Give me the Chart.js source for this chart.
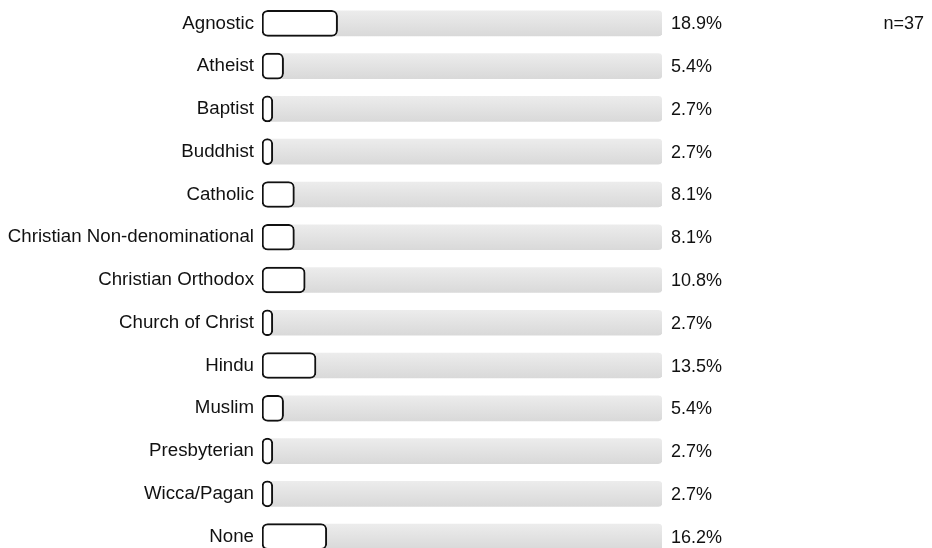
<!DOCTYPE html>
<html>
<head>
<meta charset="utf-8">
<script src="https://cdn.jsdelivr.net/npm/chart.js@4/dist/chart.umd.min.js"></script>
<style>
  html, body { margin: 0; padding: 0; background: #ffffff; overflow: hidden; }
  #wrap { position: relative; width: 932px; height: 558px; }
</style>
</head>
<body>
<div id="wrap"><canvas id="c" width="932" height="558"></canvas></div>
<script>
const categories = ["Agnostic", "Atheist", "Baptist", "Buddhist", "Catholic",
  "Christian Non-denominational", "Christian Orthodox", "Church of Christ",
  "Hindu", "Muslim", "Presbyterian", "Wicca/Pagan", "None"];
const percentValues = [18.9, 5.4, 2.7, 2.7, 8.1, 8.1, 10.8, 2.7, 13.5, 5.4, 2.7, 2.7, 16.2];
const trackValues = categories.map(() => 100);
const sampleLabel = "n=37";

const FONT = '"Liberation Sans", Arial, Helvetica, sans-serif';

const valueLabels = {
  id: 'valueLabels',
  afterDatasetsDraw(chart) {
    const ctx = chart.ctx;
    const yScale = chart.scales.y;
    const xScale = chart.scales.x;
    ctx.save();
    ctx.font = '18px ' + FONT;
    ctx.fillStyle = '#111111';
    ctx.textAlign = 'left';
    ctx.textBaseline = 'middle';
    percentValues.forEach((v, i) => {
      const y = yScale.getPixelForValue(i);
      const x = xScale.getPixelForValue(100) + 9;
      ctx.fillText(v.toFixed(1) + '%', x, y + 1);
    });
    ctx.textAlign = 'right';
    ctx.fillText(sampleLabel, 924, yScale.getPixelForValue(0) + 1);
    ctx.restore();
  }
};

new Chart(document.getElementById('c'), {
  type: 'bar',
  data: {
    labels: categories,
    datasets: [
      {
        label: 'value',
        data: percentValues,
        backgroundColor: '#ffffff',
        borderColor: '#111111',
        borderWidth: 2,
        borderRadius: 6,
        borderSkipped: false,
        barThickness: 26,
        grouped: false,
        order: 1
      },
      {
        label: 'track',
        data: trackValues,
        backgroundColor: (ctx) => {
          const chart = ctx.chart;
          const ys = chart.scales.y;
          if (!ys || !chart.chartArea) return '#e2e2e2';
          const py = ys.getPixelForValue(ctx.dataIndex);
          const g = chart.ctx.createLinearGradient(0, py - 12.5, 0, py + 12.5);
          g.addColorStop(0, '#ececec');
          g.addColorStop(1, '#d9d9d9');
          return g;
        },
        borderWidth: 0,
        borderRadius: 4,
        borderSkipped: false,
        barThickness: 25,
        grouped: false,
        order: 2
      }
    ]
  },
  options: {
    indexAxis: 'y',
    responsive: false,
    animation: false,
    devicePixelRatio: 1,
    layout: { padding: { top: 2, right: 270, bottom: 0, left: 0 } },
    plugins: {
      legend: { display: false },
      tooltip: { enabled: false },
      title: { display: false }
    },
    scales: {
      x: {
        display: false,
        min: 0,
        max: 100
      },
      y: {
        grid: { display: false, drawTicks: false, tickLength: 0 },
        border: { display: false },
        ticks: {
          color: '#111111',
          padding: 8,
          font: { size: 18.7, family: FONT }
        },
        afterFit(scale) {
          scale.width = 262;
          scale.paddingTop = 0;
          scale.paddingBottom = 0;
        }
      }
    }
  },
  plugins: [valueLabels]
});
</script>
</body>
</html>
